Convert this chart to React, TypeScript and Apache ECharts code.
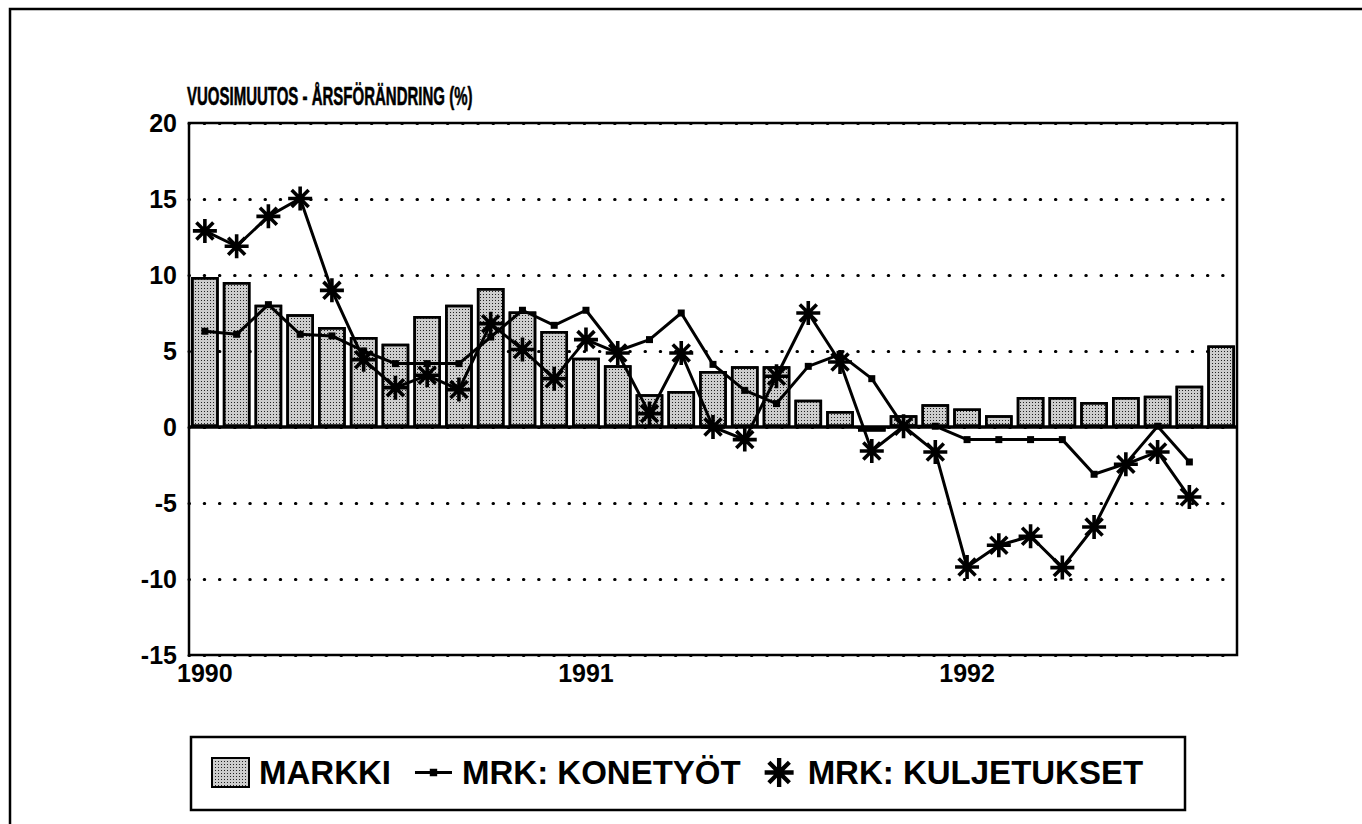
import React, { useEffect, useRef } from "react";
import * as echarts from "echarts";

const categories = [
  "1990-01", "1990-02", "1990-03", "1990-04", "1990-05", "1990-06", "1990-07", "1990-08", "1990-09", "1990-10", "1990-11", "1990-12",
  "1991-01", "1991-02", "1991-03", "1991-04", "1991-05", "1991-06", "1991-07", "1991-08", "1991-09", "1991-10", "1991-11", "1991-12",
  "1992-01", "1992-02", "1992-03", "1992-04", "1992-05", "1992-06", "1992-07", "1992-08", "1992-09",
];
const yearTickIndex = [0, 12, 24];
const yearLabels = ["1990", "1991", "1992"];

const markki = [
  9.87, 9.54, 8.05, 7.41, 6.58, 5.92, 5.48, 7.3, 8.05, 9.15, 7.6, 6.32,
  4.56, 4.06, 2.15, 2.37, 3.68, 3.99, 3.99, 1.8, 1.05, -0.3, 0.77, 1.49,
  1.21, 0.77, 1.97, 1.97, 1.64, 1.97, 2.06, 2.72, 5.37,
];
const konetyot = [
  6.3, 6.1, 8.05, 6.1, 5.99, 5.0, 4.17, 4.17, 4.17, 5.92, 7.68, 6.69,
  7.68, 5.0, 5.75, 7.5, 4.12, 2.41, 1.54, 3.99, 4.78, 3.18, 0.05, 0.05,
  -0.83, -0.83, -0.83, -0.83, -3.11, -2.41, 0.05, -2.3, null,
];
const kuljetukset = [
  12.9, 11.89, 13.86, 15.03, 8.99, 4.43, 2.59, 3.4, 2.46, 6.8, 5.1, 3.18,
  5.75, 4.87, 0.88, 4.87, 0.0, -0.83, 3.34, 7.5, 4.28, -1.58, 0.05, -1.64,
  -9.21, -7.78, -7.19, -9.25, -6.58, -2.45, -1.64, -4.61, null,
];

const titleText = "VUOSIMUUTOS - ÅRSFÖRÄNDRING (%)";
const seriesNames = ["MARKKI", "MRK: KONETYÖT", "MRK: KULJETUKSET"];

const FONT = '"Liberation Sans", Arial, Helvetica, sans-serif';
const ASTERISK =
  "path://M8.5 0L11.5 0L11.5 20L8.5 20Z M0 8.5L20 8.5L20 11.5L0 11.5Z M3.99 1.87L18.13 16.01L16.01 18.13L1.87 3.99Z M18.13 3.99L3.99 18.13L1.87 16.01L16.01 1.87Z";
const LINE_ICON = "path://M0 9L30 9L30 11.4L0 11.4Z M12 7.2L18 7.2L18 13.2L12 13.2Z";

export default function App() {
  const ref = useRef<HTMLDivElement>(null);
  useEffect(() => {
    if (!ref.current) return;
    const chart = echarts.init(ref.current, null, { renderer: "svg" });
    const option: any = {
      animation: false,
      backgroundColor: "#ffffff",
      grid: {
        left: 189,
        top: 123,
        right: 125,
        bottom: 169,
        show: true,
        borderColor: "#000",
        borderWidth: 2.5,
        backgroundColor: "transparent",
      },
      xAxis: {
        type: "category",
        data: categories,
        axisLine: { show: false },
        axisTick: { show: false },
        splitLine: { show: false },
        axisLabel: {
          interval: (idx: number) => yearTickIndex.includes(idx),
          formatter: (_v: string, idx: number) => {
            const k = yearTickIndex.indexOf(idx);
            return k >= 0 ? yearLabels[k] : "";
          },
          color: "#000",
          fontFamily: FONT,
          fontWeight: "bold",
          fontSize: 25,
          margin: 5,
        },
      },
      yAxis: {
        type: "value",
        min: -15,
        max: 20,
        interval: 5,
        axisLine: { show: false },
        axisTick: { show: false },
        axisLabel: {
          color: "#000",
          fontFamily: FONT,
          fontWeight: "bold",
          fontSize: 25,
          margin: 12,
        },
        splitLine: {
          show: true,
          lineStyle: { color: "#000", width: 3, type: [0.5, 14.7], cap: "round" },
        },
      },
      legend: {
        left: 211,
        top: 756,
        padding: 0,
        itemWidth: 37,
        itemHeight: 29,
        itemGap: 24,
        selectedMode: false,
        textStyle: {
          color: "#000",
          fontFamily: FONT,
          fontWeight: "bold",
          fontSize: 33,
          padding: [0, 0, 0, 5],
        },
        data: [
          { name: seriesNames[0], icon: "rect" },
          { name: seriesNames[1], icon: LINE_ICON },
          { name: seriesNames[2], icon: ASTERISK },
        ],
      },
      graphic: [
        {
          type: "rect",
          silent: true,
          shape: { x: 10, y: 9, width: 1400, height: 900 },
          style: { fill: "none", stroke: "#000", lineWidth: 2.5 },
        },
        {
          type: "rect",
          silent: true,
          shape: { x: 191, y: 737, width: 994, height: 73 },
          style: { fill: "none", stroke: "#000", lineWidth: 2.5 },
        },
        {
          type: "text",
          silent: true,
          x: 187,
          y: 96,
          scaleX: 0.6,
          style: {
            text: titleText,
            fill: "#000",
            stroke: "#000",
            lineWidth: 0.6,
            font: `bold 25px ${FONT}`,
            textVerticalAlign: "middle",
          },
        },
      ],
      series: [
        {
          name: seriesNames[0],
          type: "bar",
          data: markki,
          barCategoryGap: "13%",
          itemStyle: {
            color: "#cdcdcd",
            borderColor: "#000",
            borderWidth: 2.5,
            decal: {
              symbol: "rect",
              symbolSize: 1,
              dashArrayX: [1, 2],
              dashArrayY: [1, 2],
              color: "#222",
              rotation: 0,
            },
          },
          markLine: {
            silent: true,
            symbol: "none",
            label: { show: false },
            lineStyle: { color: "#000", width: 3.5, type: "solid" },
            data: [{ yAxis: 0 }],
          },
        },
        {
          name: seriesNames[1],
          type: "line",
          data: konetyot,
          symbol: "rect",
          symbolSize: 7,
          showAllSymbol: true,
          lineStyle: { color: "#000", width: 3 },
          itemStyle: { color: "#000" },
          z: 3,
        },
        {
          name: seriesNames[2],
          type: "line",
          data: kuljetukset,
          symbol: ASTERISK,
          symbolSize: 24,
          showAllSymbol: true,
          lineStyle: { color: "#000", width: 3 },
          itemStyle: { color: "#000" },
          z: 4,
        },
      ],
    };
    chart.setOption(option);
    return () => chart.dispose();
  }, []);
  return (
    <div
      ref={ref}
      style={{ position: "absolute", left: 0, top: 0, width: 1362, height: 824 }}
    />
  );
}
